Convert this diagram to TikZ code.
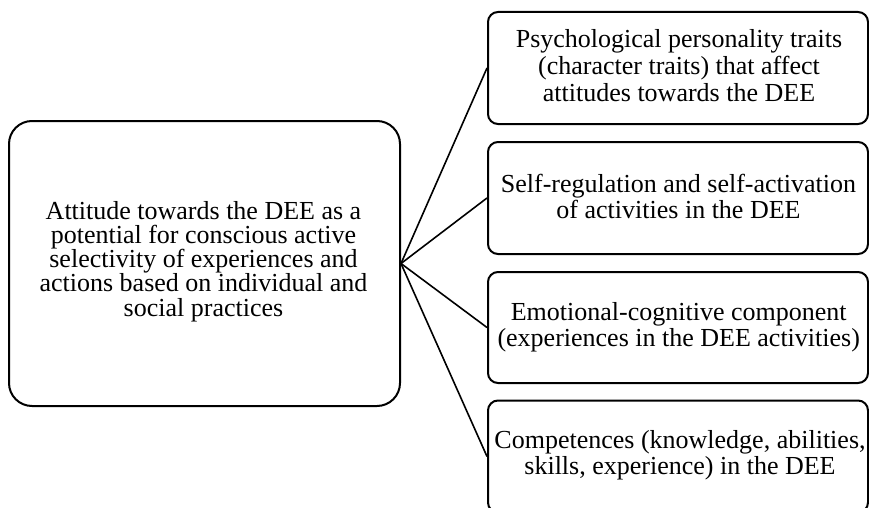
\documentclass[tikz,border=0pt]{standalone}
\usepackage{fontspec}
\setmainfont{Liberation Serif}
\begin{document}
\begin{tikzpicture}[x=1pt,y=-1pt,
  bigbox/.style={draw=black,line width=2pt,rounded corners=23pt,minimum width=391pt,minimum height=285pt,inner sep=0pt},
  smallbox/.style={draw=black,line width=2pt,rounded corners=10pt,minimum width=380pt,minimum height=112pt,inner sep=0pt},
  txt/.style={align=center,inner sep=0pt},
  conn/.style={draw=black,line width=1.6pt}]
\useasboundingbox (0,0) rectangle (869,508);
\node[bigbox] (main) at (204.5,263.5) {};
\node[smallbox] (b1) at (678,68) {};
\node[smallbox] (b2) at (678,198) {};
\node[smallbox,minimum height=111pt] (b3) at (678,327.5) {};
\node[smallbox] (b4) at (678,456.5) {};
\node[txt,font=\fontsize{26}{24.2}\selectfont] (t0) at (203.5,261.5) {Attitude towards the DEE as a\\potential for conscious active\\selectivity of experiences and\\actions based on individual and\\social practices};
\node[txt,font=\fontsize{26}{27}\selectfont] (t1) at (679,65.6) {Psychological personality traits\\(character traits) that affect\\attitudes towards the DEE};
\node[txt,font=\fontsize{26}{26}\selectfont] (t2) at (678.5,196.1) {Self-regulation and self-activation\\of activities in the DEE};
\node[txt,font=\fontsize{26}{25.5}\selectfont] (t3) at (678.7,327.4) {Emotional-cognitive component\\(experiences in the DEE activities)};
\node[txt,font=\fontsize{26}{25.5}\selectfont] (t4) at (680,455.3) {Competences (knowledge, abilities,\\skills, experience) in the DEE};
\draw[conn] (main.east) -- (b1.west);
\draw[conn] (main.east) -- (b2.west);
\draw[conn] (main.east) -- (b3.west);
\draw[conn] (main.east) -- (b4.west);
\end{tikzpicture}
\end{document}
